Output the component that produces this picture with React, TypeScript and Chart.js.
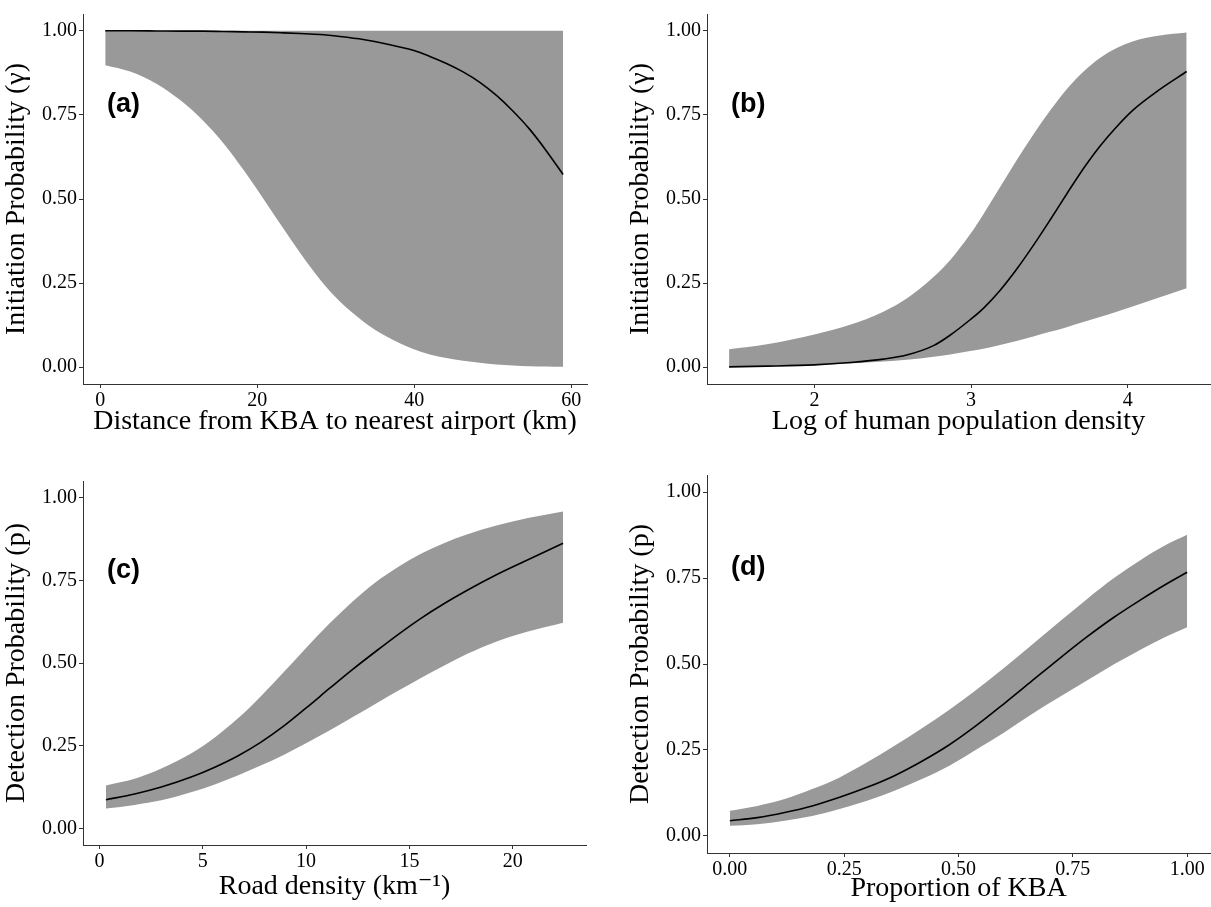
import React, { useEffect, useRef } from "react";
import { Chart, registerables } from "chart.js";

Chart.register(...registerables);

// ---------- Panel (a): distance from KBA to nearest airport ----------
const airportKm = [0.64, 3.82, 7.21, 10.18, 13.15, 15.69, 18.24, 20.78, 23.33, 25.45, 27.99, 30.53, 33.50, 36.47, 39.86, 41.98, 44.10, 46.22, 48.35, 50.47, 52.59, 54.71, 56.83, 58.95];
const airportLower = [0.898, 0.879, 0.842, 0.794, 0.732, 0.666, 0.587, 0.501, 0.412, 0.340, 0.261, 0.195, 0.136, 0.091, 0.054, 0.038, 0.027, 0.019, 0.013, 0.008, 0.005, 0.003, 0.002, 0.001];
const airportMean = [1.000, 1.000, 0.9995, 0.999, 0.999, 0.998, 0.997, 0.996, 0.994, 0.992, 0.989, 0.983, 0.974, 0.961, 0.942, 0.924, 0.903, 0.878, 0.847, 0.808, 0.761, 0.707, 0.643, 0.573];
const airportUpper = [1, 1, 1, 1, 1, 1, 1, 1, 1, 1, 1, 1, 1, 1, 1, 1, 1, 1, 1, 1, 1, 1, 1, 1];
const airportTicks = [0, 20, 40, 60];
const airportTickLabels = ["0", "20", "40", "60"];

// ---------- Panel (b): log of human population density ----------
const popLog = [1.455, 1.696, 2.000, 2.228, 2.440, 2.589, 2.760, 2.866, 2.994, 3.079, 3.185, 3.291, 3.398, 3.504, 3.611, 3.717, 3.823, 3.930, 4.036, 4.206, 4.377];
const popUpper = [0.053, 0.068, 0.097, 0.126, 0.165, 0.204, 0.268, 0.318, 0.395, 0.455, 0.535, 0.615, 0.692, 0.762, 0.826, 0.878, 0.919, 0.949, 0.969, 0.986, 0.995];
const popLower = [0.001, 0.003, 0.007, 0.011, 0.017, 0.022, 0.031, 0.038, 0.048, 0.055, 0.066, 0.078, 0.091, 0.105, 0.119, 0.134, 0.149, 0.165, 0.181, 0.208, 0.235];
const popMean = [0.001, 0.003, 0.007, 0.014, 0.024, 0.036, 0.064, 0.095, 0.141, 0.175, 0.228, 0.291, 0.362, 0.437, 0.515, 0.590, 0.657, 0.715, 0.765, 0.826, 0.879];
const popTicks = [2, 3, 4];
const popTickLabels = ["2", "3", "4"];

// ---------- Panel (c): road density ----------
const roadDensity = [0.31, 1.70, 2.99, 4.47, 5.58, 6.69, 7.80, 8.91, 10.02, 11.13, 12.24, 13.35, 14.45, 15.56, 16.67, 17.78, 19.26, 20.74, 22.44];
const roadUpper = [0.130, 0.150, 0.181, 0.228, 0.275, 0.332, 0.399, 0.472, 0.547, 0.619, 0.685, 0.743, 0.790, 0.830, 0.862, 0.888, 0.916, 0.938, 0.958];
const roadLower = [0.060, 0.071, 0.085, 0.110, 0.133, 0.160, 0.190, 0.222, 0.258, 0.296, 0.336, 0.376, 0.416, 0.455, 0.492, 0.527, 0.566, 0.595, 0.622];
const roadMean = [0.087, 0.104, 0.125, 0.156, 0.185, 0.219, 0.260, 0.309, 0.365, 0.423, 0.480, 0.534, 0.586, 0.635, 0.679, 0.719, 0.768, 0.812, 0.862];
const roadTicks = [0, 5, 10, 15, 20];
const roadTickLabels = ["0", "5", "10", "15", "20"];

// ---------- Panel (d): proportion of KBA ----------
const kbaProp = [0, 0.06, 0.12, 0.18, 0.24, 0.30, 0.36, 0.42, 0.48, 0.54, 0.60, 0.66, 0.72, 0.78, 0.84, 0.90, 0.95, 1.0];
const kbaUpper = [0.073, 0.087, 0.107, 0.136, 0.170, 0.214, 0.262, 0.313, 0.367, 0.426, 0.489, 0.555, 0.622, 0.688, 0.750, 0.804, 0.844, 0.876];
const kbaLower = [0.029, 0.034, 0.044, 0.058, 0.078, 0.102, 0.131, 0.165, 0.204, 0.252, 0.301, 0.354, 0.403, 0.451, 0.499, 0.543, 0.577, 0.607];
const kbaMean = [0.044, 0.053, 0.068, 0.087, 0.112, 0.141, 0.175, 0.217, 0.265, 0.322, 0.385, 0.450, 0.515, 0.578, 0.636, 0.688, 0.729, 0.767];
const kbaTicks = [0, 0.25, 0.5, 0.75, 1];
const kbaTickLabels = ["0.00", "0.25", "0.50", "0.75", "1.00"];

// ---------- shared probability axis ----------
const probTicks = [0, 0.25, 0.5, 0.75, 1];
const probTickLabels = ["0.00", "0.25", "0.50", "0.75", "1.00"];

const SERIF = '"Liberation Serif", "Times New Roman", "DejaVu Serif", serif';
const SANS = '"Liberation Sans", Arial, "DejaVu Sans", sans-serif';
const BAND = "#999999";
const AXIS = "#333333";

const panelLabelPlugin = {
  id: "panelLabel",
  afterDatasetsDraw(chart: any, _args: any, opts: any) {
    if (!opts || !opts.text) return;
    const { ctx, chartArea, scales } = chart;
    ctx.save();
    ctx.font = `bold 27px ${SANS}`;
    ctx.fillStyle = "#000";
    ctx.textAlign = "left";
    ctx.textBaseline = "middle";
    ctx.fillText(opts.text, chartArea.left + opts.dx, scales.y.getPixelForValue(opts.y));
    ctx.restore();
  },
};

type PanelProps = {
  left: number;
  top: number;
  width: number;
  height: number;
  pad: { top: number; right: number; bottom: number; left: number };
  xHeight: number;
  yWidth: number;
  xs: number[];
  lower: number[];
  mean: number[];
  upper: number[];
  xMin: number;
  xMax: number;
  xTicks: number[];
  xTickLabels: string[];
  xTitle: string;
  yTitle: string;
  label: string;
};

function Panel(p: PanelProps) {
  const ref = useRef<HTMLCanvasElement | null>(null);
  useEffect(() => {
    if (!ref.current) return;
    const pts = (ys: number[]) => p.xs.map((x, i) => ({ x, y: ys[i] }));
    const chart = new Chart(ref.current, {
      type: "line",
      data: {
        datasets: [
          {
            label: "fit",
            data: pts(p.mean),
            borderColor: "#000",
            borderWidth: 1.6,
            pointRadius: 0,
            fill: false,
            cubicInterpolationMode: "monotone",
          },
          {
            label: "upper",
            data: pts(p.upper),
            borderColor: "rgba(0,0,0,0)",
            borderWidth: 0,
            pointRadius: 0,
            backgroundColor: BAND,
            fill: "+1",
            cubicInterpolationMode: "monotone",
          },
          {
            label: "lower",
            data: pts(p.lower),
            borderColor: "rgba(0,0,0,0)",
            borderWidth: 0,
            pointRadius: 0,
            fill: false,
            cubicInterpolationMode: "monotone",
          },
        ],
      } as any,
      options: {
        animation: false,
        responsive: false,
        devicePixelRatio: 1,
        layout: { padding: p.pad },
        events: [],
        plugins: {
          legend: { display: false },
          tooltip: { enabled: false },
          panelLabel: { text: p.label, dx: 24, y: 0.78 },
        } as any,
        scales: {
          x: {
            type: "linear",
            min: p.xMin,
            max: p.xMax,
            afterBuildTicks: (s: any) => {
              s.ticks = p.xTicks.map((v) => ({ value: v }));
            },
            afterFit: (s: any) => {
              s.height = p.xHeight;
            },
            ticks: {
              autoSkip: false,
              maxRotation: 0,
              padding: 1,
              color: "#000",
              font: { family: SERIF, size: 20 },
              callback: (_v: any, i: number) => p.xTickLabels[i],
            },
            grid: { display: true, drawOnChartArea: false, drawTicks: true, tickLength: 4, color: AXIS, lineWidth: 1 },
            border: { display: true, color: AXIS, width: 1 },
            title: { display: true, text: p.xTitle, color: "#000", padding: 0, font: { family: SERIF, size: 28 } },
          },
          y: {
            type: "linear",
            min: -0.05,
            max: 1.05,
            afterBuildTicks: (s: any) => {
              s.ticks = probTicks.map((v) => ({ value: v }));
            },
            afterFit: (s: any) => {
              s.width = p.yWidth;
            },
            ticks: {
              autoSkip: false,
              padding: 2,
              color: "#000",
              font: { family: SERIF, size: 20 },
              callback: (_v: any, i: number) => probTickLabels[i],
            },
            grid: { display: true, drawOnChartArea: false, drawTicks: true, tickLength: 4, color: AXIS, lineWidth: 1 },
            border: { display: true, color: AXIS, width: 1 },
            title: { display: true, text: p.yTitle, color: "#000", padding: 0, font: { family: SERIF, size: 28 } },
          },
        },
      } as any,
      plugins: [panelLabelPlugin],
    });
    return () => chart.destroy();
  }, []);
  return (
    <canvas
      ref={ref}
      width={p.width}
      height={p.height}
      style={{ position: "absolute", left: p.left, top: p.top, width: p.width, height: p.height }}
    />
  );
}

export default function App() {
  return (
    <div style={{ position: "fixed", left: 0, top: 0, width: 1211, height: 907, background: "#fff", overflow: "hidden" }}>
      <Panel
        left={0} top={0} width={600} height={455}
        pad={{ top: 6, right: 13, bottom: 16.7, left: 0 }}
        xHeight={54.3} yWidth={83}
        xs={airportKm} lower={airportLower} mean={airportMean} upper={airportUpper}
        xMin={-2.19} xMax={62.0} xTicks={airportTicks} xTickLabels={airportTickLabels}
        xTitle="Distance from KBA to nearest airport (km)"
        yTitle="Initiation Probability (γ)"
        label="(a)"
      />
      <Panel
        left={624} top={0} width={587} height={455}
        pad={{ top: 6, right: 1, bottom: 16.7, left: 0 }}
        xHeight={54.3} yWidth={83}
        xs={popLog} lower={popLower} mean={popMean} upper={popUpper}
        xMin={1.314} xMax={4.526} xTicks={popTicks} xTickLabels={popTickLabels}
        xTitle="Log of human population density"
        yTitle="Initiation Probability (γ)"
        label="(b)"
      />
      <Panel
        left={0} top={455} width={600} height={452}
        pad={{ top: 26, right: 14, bottom: 3.7, left: 0 }}
        xHeight={58.3} yWidth={83}
        xs={roadDensity} lower={roadLower} mean={roadMean} upper={roadUpper}
        xMin={-0.8} xMax={23.55} xTicks={roadTicks} xTickLabels={roadTickLabels}
        xTitle="Road density (km⁻¹)"
        yTitle="Detection Probability (p)"
        label="(c)"
      />
      <Panel
        left={624} top={455} width={587} height={452}
        pad={{ top: 20, right: 1, bottom: 2, left: 0 }}
        xHeight={52} yWidth={83}
        xs={kbaProp} lower={kbaLower} mean={kbaMean} upper={kbaUpper}
        xMin={-0.05} xMax={1.05} xTicks={kbaTicks} xTickLabels={kbaTickLabels}
        xTitle="Proportion of KBA"
        yTitle="Detection Probability (p)"
        label="(d)"
      />
    </div>
  );
}
